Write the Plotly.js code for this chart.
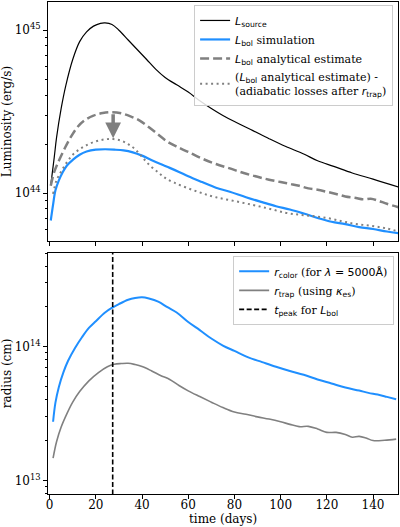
<!DOCTYPE html>
<html><head><meta charset="utf-8">
<script src="https://cdn.plot.ly/plotly-3.0.1.min.js"></script>
<style>body{margin:0;padding:0;background:#fff}#chart{width:400px;height:527px}</style>
</head><body><div id="chart"></div>
<script>
// ---- Top panel: luminosities (erg/s) ----
const tSource = [0.5,2,3,5,7,10,13,16,19,22,24,27,30,34,38,42,46,50,55,60,65,70,75,80,88,95,102,110,116,123,131,140,151];
const lSource = [1.12e44,1.66e44,2.19e44,3.31e44,4.57e44,6.61e44,8.51e44,9.77e44,10.59e44,11.02e44,11.09e44,10.84e44,10.0e44,8.71e44,7.59e44,6.61e44,5.75e44,5.13e44,4.62e44,4.17e44,3.69e44,3.31e44,3.00e44,2.75e44,2.42e44,2.16e44,1.94e44,1.74e44,1.58e44,1.46e44,1.33e44,1.22e44,1.09e44];

const tSim = [0.5,1.5,2.5,4,5.5,7.5,10,13,16,20,24,28,32,36,40,44,48,52,56,60,66,72,78,85,92,98,104,110,116,122,128,134,140,146,151];
const lSim = [0.68e44,0.851e44,1.04e44,1.20e44,1.33e44,1.48e44,1.60e44,1.72e44,1.80e44,1.85e44,1.86e44,1.85e44,1.83e44,1.78e44,1.70e44,1.60e44,1.51e44,1.43e44,1.35e44,1.27e44,1.17e44,1.08e44,1.02e44,0.944e44,0.881e44,0.832e44,0.794e44,0.750e44,0.705e44,0.668e44,0.646e44,0.619e44,0.603e44,0.582e44,0.569e44];

const tAna = [0.5,2,4,6.5,9,12,15,19,23,27,31,35,39,43,47,51,55,60,66,72,78,84,90,95,100,104,108,112,116,120,124,128,132,136,139,142,146,151];
const lAna = [1.11e44,1.35e44,1.58e44,1.88e44,2.19e44,2.54e44,2.79e44,2.99e44,3.10e44,3.14e44,3.09e44,2.96e44,2.79e44,2.54e44,2.29e44,2.07e44,1.93e44,1.79e44,1.63e44,1.51e44,1.42e44,1.33e44,1.26e44,1.21e44,1.17e44,1.14e44,1.11e44,1.07e44,1.05e44,1.02e44,0.989e44,0.955e44,0.938e44,0.916e44,0.925e44,0.902e44,0.861e44,0.820e44];

const tAdi = [1.5,3,5,7.5,10,13,16,20,24,27.5,31,34,37,40,43,47,50,54,60,66,72,80,88,95,102,108,114,120,126,131,136,141,146,151];
const lAdi = [0.991e44,1.20e44,1.36e44,1.55e44,1.72e44,1.86e44,1.97e44,2.08e44,2.14e44,2.15e44,2.10e44,2.00e44,1.86e44,1.67e44,1.50e44,1.34e44,1.24e44,1.16e44,1.07e44,1.00e44,0.944e44,0.895e44,0.847e44,0.804e44,0.759e44,0.738e44,0.724e44,0.705e44,0.676e44,0.653e44,0.638e44,0.625e44,0.607e44,0.583e44];

// arrow (analytical peak -> reduced peak)
const arrowT = 27.5, arrowFrom = 3.12e44, arrowTo = 2.17e44;

// ---- Bottom panel: radii (cm) ----
const tColor = [1.5,2.5,4,6,8,11,14,17,20,24,27,30,34,37,40,43,47,51,55,60,65,70,75,80,86,92,98,104,110,116,122,128,134,138,142,146,150];
const rColor = [2.75e13,3.80e13,5.01e13,6.46e13,7.85e13,9.77e13,1.175e14,1.38e14,1.55e14,1.80e14,1.95e14,2.08e14,2.24e14,2.31e14,2.34e14,2.29e14,2.17e14,1.97e14,1.80e14,1.53e14,1.33e14,1.15e14,1.02e14,9.29e13,8.32e13,7.67e13,7.08e13,6.58e13,6.17e13,5.69e13,5.31e13,4.95e13,4.70e13,4.52e13,4.39e13,4.22e13,4.05e13];

const tTrap = [1.5,3,5,7.5,10,13,17,21,25,28,31,34,37,40,44,48,52,56,60,65,70,75,80,85,90,95,100,104,108,112,116,120,124,128,131,134,137,140,145,150];
const rTrap = [1.47e13,1.95e13,2.51e13,3.16e13,3.85e13,4.62e13,5.56e13,6.38e13,7.08e13,7.38e13,7.48e13,7.52e13,7.35e13,7.10e13,6.61e13,6.10e13,5.69e13,5.13e13,4.68e13,4.24e13,3.85e13,3.51e13,3.25e13,3.13e13,2.99e13,2.88e13,2.75e13,2.63e13,2.53e13,2.54e13,2.43e13,2.29e13,2.29e13,2.21e13,2.11e13,2.14e13,2.08e13,1.99e13,2.00e13,2.04e13];

const tPeak = 27.3;

const xTicks = [0,20,40,60,80,100,120,140];
const topTickVals = [1e44,1e45], topTickText = ['10<sup>44</sup>','10<sup>45</sup>'];
const botTickVals = [1e13,1e14], botTickText = ['10<sup>13</sup>','10<sup>14</sup>'];

function minorTicks(lo, hi){ const v=[]; for(let e=lo;e<=hi;e++){ for(let m=2;m<=9;m++) v.push(m*Math.pow(10,e)); } return v; }

const SANS = 'font-family:DejaVu Sans';
const M = (s) => `<span style="${SANS}">${s}</span>`;

const blue = '#1f8fff', gray = '#808080';

const traces = [
  {x:tSource, y:lSource, mode:'lines', line:{color:'#000', width:1.2, shape:'spline'}, name: M('<i>L</i><sub>source</sub>'), xaxis:'x', yaxis:'y', legend:'legend'},
  {x:tSim, y:lSim, mode:'lines', line:{color:blue, width:2.2, shape:'spline'}, name: M('<i>L</i><sub>bol</sub>')+' simulation', xaxis:'x', yaxis:'y', legend:'legend'},
  {x:tAna, y:lAna, mode:'lines', line:{color:gray, width:2.5, dash:'9px,4px', shape:'spline'}, name: M('<i>L</i><sub>bol</sub>')+' analytical estimate', xaxis:'x', yaxis:'y', legend:'legend'},
  {x:tAdi, y:lAdi, mode:'lines', line:{color:gray, width:2, dash:'2px,3.5px', shape:'spline'}, name: '('+M('<i>L</i><sub>bol</sub>')+' analytical estimate) -<br>(adiabatic losses after '+M('<i>r</i><sub>trap</sub>')+')', xaxis:'x', yaxis:'y', legend:'legend'},
  {x:tColor, y:rColor, mode:'lines', line:{color:blue, width:2, shape:'spline'}, name: M('<i>r</i><sub>color</sub>')+' (for '+M('<i>λ</i> = 5000Å')+')', xaxis:'x2', yaxis:'y2', legend:'legend2'},
  {x:tTrap, y:rTrap, mode:'lines', line:{color:gray, width:1.6, shape:'spline'}, name: M('<i>r</i><sub>trap</sub>')+' (using '+M('<i>κ</i><sub>es</sub>')+')', xaxis:'x2', yaxis:'y2', legend:'legend2'},
  {x:[tPeak,tPeak], y:[1e12,1e15], mode:'lines', line:{color:'#000', width:1.6, dash:'5px,2.5px'}, name: M('<i>t</i><sub>peak</sub>')+' for '+M('<i>L</i><sub>bol</sub>'), xaxis:'x2', yaxis:'y2', legend:'legend2'}
];

const tickFont = {family:'DejaVu Serif', size:12, color:'#000'};
const titleFont = {family:'DejaVu Serif', size:12, color:'#000'};
const baseX = {range:[-0.7,150.8], tickvals:xTicks, ticks:'outside', ticklen:4, tickwidth:1, tickcolor:'#000', showline:true, linecolor:'#000', linewidth:1, mirror:true, showgrid:false, zeroline:false, tickfont:tickFont};
const baseY = {type:'log', tickmode:'array', ticks:'outside', ticklen:4, tickwidth:1, tickcolor:'#000', showline:true, linecolor:'#000', linewidth:1, mirror:true, showgrid:false, zeroline:false, tickfont:tickFont};

const layout = {
  width:400, height:527,
  margin:{l:48, r:2, t:2, b:33},
  paper_bgcolor:'#fff', plot_bgcolor:'#fff',
  font:{family:'DejaVu Serif', size:11, color:'#000'},
  showlegend:true,
  xaxis: Object.assign({}, baseX, {anchor:'y', showticklabels:false}),
  yaxis: Object.assign({}, baseY, {domain:[0.514,1], range:[43.706,45.173], tickvals:topTickVals, ticktext:topTickText,
    minor:{tickmode:'array', tickvals:minorTicks(43,44), ticks:'outside', ticklen:2, tickcolor:'#000', showgrid:false},
    title:{text:'Luminosity (erg/s)', font:titleFont, standoff:4}}),
  xaxis2: Object.assign({}, baseX, {anchor:'y2', ticklabelstandoff:-4}),
  yaxis2: Object.assign({}, baseY, {domain:[0,0.490], range:[12.90,14.70], tickvals:botTickVals, ticktext:botTickText,
    minor:{tickmode:'array', tickvals:minorTicks(12,14), ticks:'outside', ticklen:2, tickcolor:'#000', showgrid:false},
    title:{text:'radius (cm)', font:titleFont, standoff:4}}),
  legend:{x:0.986, y:0.994, xanchor:'right', yanchor:'top', bgcolor:'rgba(255,255,255,0.85)', bordercolor:'#cccccc', borderwidth:1, font:{family:'DejaVu Serif', size:11, color:'#000'}, tracegroupgap:0, itemwidth:30},
  legend2:{x:0.989, y:0.484, xanchor:'right', yanchor:'top', bgcolor:'rgba(255,255,255,0.85)', bordercolor:'#cccccc', borderwidth:1, font:{family:'DejaVu Serif', size:11, color:'#000'}, tracegroupgap:0, itemwidth:30},
  annotations:[
    {x:arrowT, y:Math.log10(arrowTo), ax:arrowT, ay:Math.log10(arrowFrom), xref:'x', yref:'y', axref:'x', ayref:'y', text:'', showarrow:true, arrowhead:2, arrowsize:0.9, arrowwidth:3.5, arrowcolor:'#7f7f7f'},
    {x:0.5, y:0, xref:'paper', yref:'paper', yanchor:'top', yshift:-16, text:'time (days)', showarrow:false, font:titleFont}
  ]
};

Plotly.newPlot('chart', traces, layout, {displayModeBar:false, staticPlot:true});
</script></body></html>
